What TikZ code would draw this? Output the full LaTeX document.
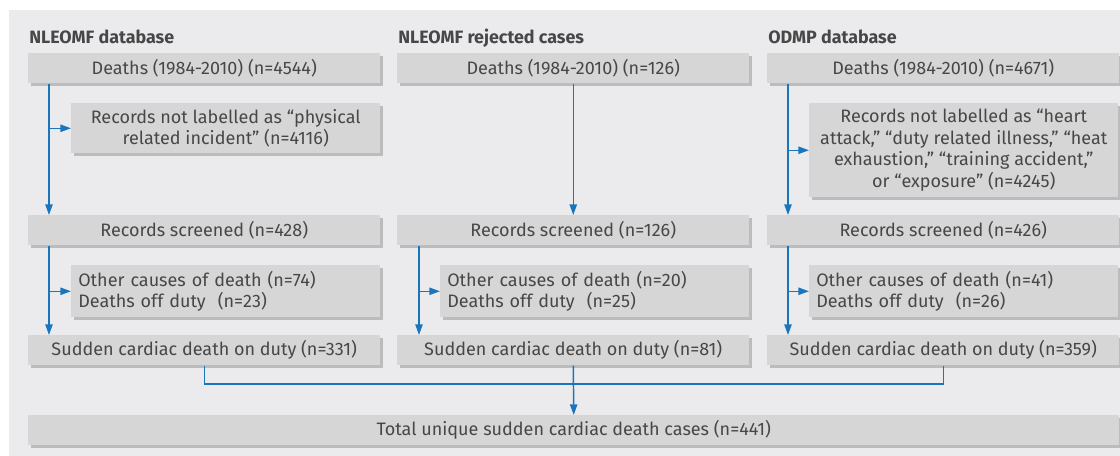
\documentclass[tikz,border=0pt]{standalone}
\usepackage{fontspec}
\setmainfont{Fira Sans}
\usetikzlibrary{positioning,shadows,arrows.meta}

\definecolor{fundal}{HTML}{EBEBED}
\definecolor{cutie}{HTML}{D6D6D6}
\definecolor{umbra}{HTML}{BCBCBC}
\definecolor{scris}{HTML}{474747}
\definecolor{albastru}{HTML}{1B75BB}

\tikzset{
  box/.style={fill=cutie, text=scris, anchor=north west, inner xsep=5.25pt, inner ysep=0pt,
    font=\fontsize{13.5}{16.25}\selectfont,
    drop shadow={shadow xshift=2.25pt, shadow yshift=-2.25pt, fill=umbra, opacity=1}},
  lat/.style={minimum width=264pt, minimum height=22.5pt, align=center},
  ingust/.style={minimum width=231.75pt},
  stanga/.style={ingust, minimum height=39pt, text width=221.25pt, align=left},
  titlu/.style={anchor=base west, inner sep=0pt, text=scris, font=\fontsize{13.4}{15}\selectfont\bfseries},
  lin/.style={draw=albastru, line width=1.1pt},
  sag/.style={lin, -{Triangle[length=8pt,width=5.5pt]}}
}

\begin{document}
\begin{tikzpicture}[x=0.75pt,y=0.75pt]
  % fundal
  \useasboundingbox (0,0) rectangle (1120,-456);
  \fill[white] (0,0) rectangle (1120,-456);
  \fill[fundal] (9,-10) rectangle (1120,-456);

  % titluri
  \node[titlu] (h1) at (29,-44) {NLEOMF database};
  \node[titlu] (h2) at (398,-44) {NLEOMF rejected cases};
  \node[titlu] (h3) at (768,-44) {ODMP database};

  % coloana 1
  \node[box,lat] (d1) at (28,-53) {Deaths (1984-2010) (n=4544)};
  \node[box,ingust,minimum height=37.5pt,align=center] (s1) at (71,-103)
    {Records not labelled as “physical\\related incident” (n=4116)};
  \node[box,lat] (r1) at (28,-215) {Records screened (n=428)};
  \node[box,stanga] (o1) at (71,-265)
    {Other causes of death (n=74)\\Deaths off duty\ \ (n=23)};
  \node[box,lat] (c1) at (28,-335) {Sudden cardiac death on duty (n=331)};

  % coloana 2
  \node[box,lat] (d2) at (397,-53) {Deaths (1984-2010) (n=126)};
  \node[box,lat] (r2) at (397,-215) {Records screened (n=126)};
  \node[box,stanga] (o2) at (440,-265)
    {Other causes of death (n=20)\\Deaths off duty\ \ (n=25)};
  \node[box,lat] (c2) at (397,-335) {Sudden cardiac death on duty (n=81)};

  % coloana 3
  \node[box,lat] (d3) at (767,-53) {Deaths (1984-2010) (n=4671)};
  \node[box,ingust,minimum height=70.5pt,align=center] (s3) at (809,-103)
    {Records not labelled as “heart\\attack,” “duty related illness,” “heat\\exhaustion,” “training accident,”\\or “exposure” (n=4245)};
  \node[box,lat] (r3) at (767,-215) {Records screened (n=426)};
  \node[box,stanga] (o3) at (809,-265)
    {Other causes of death (n=41)\\Deaths off duty\ \ (n=26)};
  \node[box,lat] (c3) at (767,-335) {Sudden cardiac death on duty (n=359)};

  % total
  \node[box,minimum width=818.25pt,minimum height=22.5pt,align=center] (t) at (28,-415)
    {Total unique sudden cardiac death cases (n=441)};

  % sageti
  \coordinate (v1) at ([xshift=15.75pt]d1.south west);
  \coordinate (w1) at ([xshift=15.75pt]r1.south west);
  \draw[sag] (v1) -- (v1 |- r1.north);
  \draw[sag] (v1 |- s1.west) -- (s1.west);
  \draw[sag] (w1) -- (w1 |- c1.north);
  \draw[sag] (w1 |- o1.west) -- (o1.west);

  \coordinate (w2) at ([xshift=16.5pt]r2.south west);
  \draw[sag] (d2.south) -- (r2.north);
  \draw[sag] (w2) -- (w2 |- c2.north);
  \draw[sag] (w2 |- o2.west) -- (o2.west);

  \coordinate (v3) at ([xshift=15.75pt]d3.south west);
  \coordinate (w3) at ([xshift=15.75pt]r3.south west);
  \draw[sag] (v3) -- (v3 |- r3.north);
  \draw[sag] (v3 |- s3.west) -- (s3.west);
  \draw[sag] (w3) -- (w3 |- c3.north);
  \draw[sag] (w3 |- o3.west) -- (o3.west);

  \draw[lin] (c1.south) -- (c1.south |- 0,-384) -| (c3.south);
  \draw[sag] (c2.south) -- (t.north);
\end{tikzpicture}
\end{document}
